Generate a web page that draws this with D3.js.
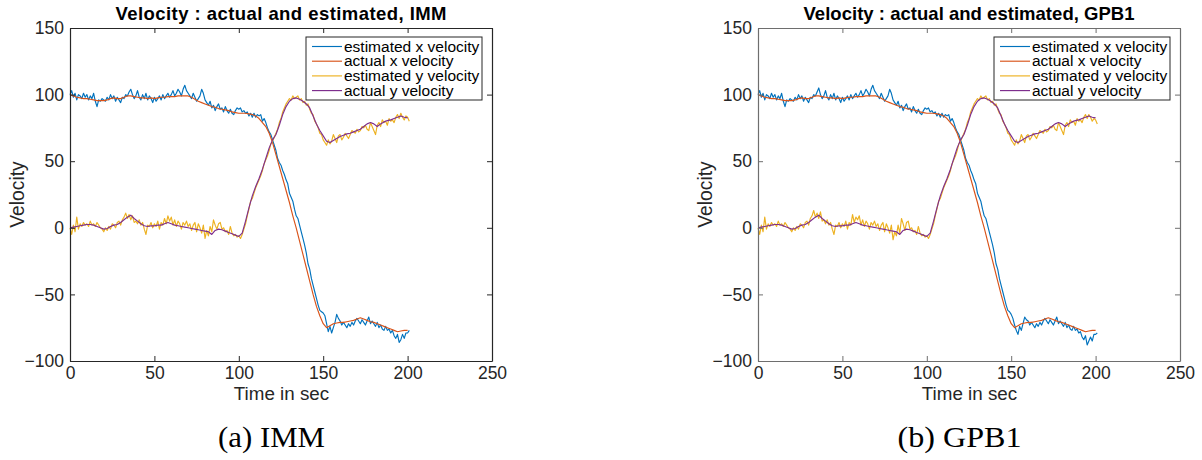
<!DOCTYPE html>
<html>
<head>
<meta charset="utf-8">
<script src="https://cdn.jsdelivr.net/npm/d3@7"></script>
<style>
  body { margin: 0; background: #fff; }
  svg { display: block; }
</style>
</head>
<body>
<svg id="chart" width="1202" height="460"></svg>
<script>
// ---- sampling grids (seconds) ----
const timeEst = d3.range(0, 202);      // estimates every second
const timeAct = d3.range(0, 201, 2);   // true trajectory every 2 s

// ---- true velocities (shared by both filters) ----
const actualX = [
  100, 99, 98, 97.5, 97, 97, 96.5, 96, 95.5, 95.5,
  95.5, 96, 97, 97.5, 97, 97, 98, 99, 99, 98.5,
  98, 97.5, 97.5, 97, 97.5, 97, 97.5, 98, 98, 98.5,
  98.5, 98.5, 99, 99, 99, 99, 98, 96.5, 95, 94,
  93, 92, 91, 90.5, 89.5, 89, 88.5, 88, 87, 86.5,
  86, 86, 86, 85.5, 85, 84, 82, 79, 76, 71,
  64, 55, 46, 37, 28, 19, 9, 0, -10, -20,
  -30, -40, -50, -59, -66, -72, -75, -73.5, -72, -71.5,
  -71, -71, -70.5, -70, -69.5, -68.5, -67.5, -68.5, -69.5, -70.5,
  -71, -72, -73, -74, -75, -76, -77, -78, -77.5, -77,
  -77
];
const actualY = [
  0, 0.5, 1, 1.5, 2, 2.5, 2.5, 2, 1, 0,
  -1, -0.5, 1, 2, 2.5, 4, 6, 8, 9.5, 7,
  5, 3, 1.5, 1, 1.5, 1.5, 2, 2, 3, 4,
  3, 2, 1.5, 1, 0.5, 0, -0.5, -1, -1.5, -2,
  -2.5, -3, -5, -2, -1, -1.5, -2.5, -3.5, -4.5, -5.5,
  -6.5, -4, 5, 15, 24, 31, 37, 44, 52, 60,
  66, 70, 77, 85, 91, 95, 97, 97.5, 96.5, 95,
  93, 90, 84, 78, 73, 69, 65, 64, 65.5, 67,
  68.5, 69.5, 70.5, 71, 72, 73, 74, 76, 78, 79,
  78, 76, 78, 79.5, 80.5, 81, 82, 83, 84, 83,
  82.5
];

// ---- IMM estimates ----
const estXImm = [
  100, 103, 98, 101, 96, 100, 99, 97, 101, 98,
  100, 96, 99, 97, 101, 95, 91, 96, 95, 97,
  96, 95, 98, 96, 100, 97, 99, 95, 98, 96,
  94, 98, 97, 100, 99, 102, 104, 100, 97, 99,
  103, 98, 96, 100, 97, 101, 96, 99, 97, 94,
  98, 95, 97, 99, 96, 100, 97, 99, 101, 98,
  100, 103, 99, 101, 104, 102, 99, 104, 107, 103,
  101, 99, 97, 101, 98, 95, 97, 99, 104, 101,
  96, 94, 92, 95, 90, 92, 88, 91, 93, 89,
  90, 87, 91, 88, 86, 89, 86, 85, 88, 90,
  89, 90, 87, 88, 86, 87, 84, 86, 83, 86,
  83, 85, 84, 85, 80, 82, 79, 75, 72, 70,
  66, 62, 58, 52, 49, 47, 43, 40, 36, 33,
  26, 23, 20, 14, 9, 7, 2, -3, -8, -13,
  -19, -27, -31, -38, -43, -48, -53, -58, -62, -63,
  -64, -66, -72, -78, -74, -79, -75, -71, -65, -68,
  -70, -73, -71, -73, -75, -72, -74, -71, -73, -70,
  -68, -70, -72, -69, -71, -73, -70, -67, -72, -70,
  -72, -74, -71, -75, -73, -76, -77, -74, -77, -76,
  -79, -77, -81, -83, -80, -86, -84, -80, -83, -79,
  -79, -77
];
const estYImm = [
  0, -5, 2, -3, 8, -1, 3, 1, 4, 2,
  3, 1, 5, 2, 3, 1, 4, 2, 0, -1,
  -3, 0, -2, 1, -1, 3, 2, 0, 4, 5,
  2, 6, 8, 11, 7, 10, 6, 9, 4, 5,
  3, 6, 2, 4, -1, -5, 2, 1, 4, 0,
  3, 1, 5, -1, 4, 2, 7, 3, 9, 5,
  8, 2, 6, 1, 5, 3, -1, 4, 2, 5,
  1, 3, -2, 2, 4, -3, 3, 0, -4, 2,
  -8, -2, -6, 1, -3, 6, 2, -1, 3, 4,
  -1, 0, -3, -2, -5, 1, -4, -6, -5, -7,
  -6, -8, -5, -1, 3, 9, 14, 20, 22, 26,
  30, 33, 36, 39, 43, 48, 51, 54, 58, 63,
  65, 68, 71, 74, 79, 82, 87, 90, 93, 95,
  97, 96, 99, 97, 98, 99, 96, 97, 94, 95,
  92, 93, 89, 86, 85, 80, 78, 75, 71, 70,
  66, 64, 62, 66, 63, 65, 70, 67, 64, 69,
  70, 66, 68, 71, 69, 67, 70, 73, 72, 71,
  74, 72, 73, 76, 75, 77, 74, 73, 79, 76,
  73, 70, 77, 79, 76, 81, 79, 80, 77, 82,
  80, 81, 79, 83, 85, 82, 86, 83, 81, 84,
  83, 80
];

// ---- GPB1 estimates ----
const estXGpb = [
  100, 103, 98, 101, 96, 100, 99, 97, 101, 98,
  100, 96, 99, 97, 101, 95, 91, 96, 95, 97,
  96, 95, 98, 96, 100, 97, 99, 95, 98, 96,
  94, 98, 97, 100, 99, 102, 105, 100, 97, 99,
  103, 98, 96, 100, 97, 101, 96, 99, 97, 94,
  98, 95, 97, 99, 96, 100, 97, 99, 101, 98,
  100, 103, 99, 101, 104, 102, 99, 104, 107, 103,
  101, 99, 97, 101, 98, 95, 97, 99, 104, 101,
  96, 94, 92, 95, 90, 92, 88, 91, 93, 89,
  90, 87, 91, 88, 86, 89, 86, 85, 88, 90,
  89, 90, 87, 88, 86, 87, 84, 86, 83, 86,
  83, 85, 84, 85, 80, 82, 79, 75, 72, 70,
  66, 62, 58, 52, 49, 47, 43, 40, 36, 33,
  26, 23, 20, 14, 9, 7, 2, -3, -8, -13,
  -19, -27, -31, -38, -43, -48, -53, -58, -62, -63,
  -65, -68, -73, -77, -80, -74, -77, -72, -67, -69,
  -70, -73, -71, -73, -75, -72, -74, -71, -73, -70,
  -68, -70, -72, -69, -71, -73, -70, -67, -72, -70,
  -72, -74, -71, -75, -73, -76, -77, -74, -77, -76,
  -79, -78, -82, -84, -81, -88, -85, -82, -85, -80,
  -80, -79
];
const estYGpb = [
  0, -5, 2, -3, 8, -1, 3, 1, 4, 2,
  3, 1, 5, 2, 3, 1, 4, 2, 0, -1,
  -3, 0, -2, 1, -1, 3, 2, 0, 4, 5,
  2, 7, 9, 13, 8, 11, 7, 12, 5, 6,
  3, 6, 2, 4, -1, -5, 2, 1, 4, 0,
  3, 1, 5, -1, 4, 2, 10, 4, 8, 6,
  9, 2, 6, 1, 5, 3, -1, 4, 2, 5,
  1, 3, -2, 2, 4, -3, 3, 0, -4, 2,
  -9, -3, -6, 2, -4, 7, 3, -2, 4, 5,
  -1, 0, -3, -2, -5, 1, -4, -6, -5, -7,
  -6, -8, -5, -1, 3, 9, 14, 20, 22, 26,
  30, 33, 36, 39, 43, 48, 51, 54, 58, 63,
  65, 68, 71, 74, 79, 82, 87, 90, 93, 95,
  97, 96, 99, 97, 98, 99, 96, 97, 94, 95,
  92, 93, 89, 86, 85, 80, 78, 75, 71, 70,
  66, 64, 62, 66, 63, 65, 70, 67, 64, 69,
  70, 66, 68, 71, 69, 67, 70, 73, 72, 71,
  74, 72, 73, 76, 75, 77, 74, 73, 79, 76,
  73, 70, 77, 79, 76, 81, 79, 80, 77, 82,
  80, 81, 79, 83, 85, 82, 85, 83, 80, 82,
  81, 78
];

// ---- axes, legend and labels ----
const xTicks = [0, 50, 100, 150, 200, 250];
const yTicks = [-100, -50, 0, 50, 100, 150];
const seriesNames = ["estimated x velocity", "actual x velocity", "estimated y velocity", "actual y velocity"];
const seriesColors = ["#0072BD", "#D95319", "#EDB120", "#7E2F8E"];
const panelTitles = ["Velocity : actual and estimated, IMM", "Velocity : actual and estimated, GPB1"];
const panelCaptions = ["(a) IMM", "(b) GPB1"];

const svg = d3.select("#chart");
const sans = "'Liberation Sans', Arial, Helvetica, sans-serif";
const serif = "'Liberation Serif', 'Times New Roman', serif";

const panels = [
  { left: 70, est: [estXImm, estYImm], axisColor: "#262626", title: panelTitles[0], caption: panelCaptions[0], capLen: 107 },
  { left: 758, est: [estXGpb, estYGpb], axisColor: "#6e6e6e", title: panelTitles[1], caption: panelCaptions[1], capLen: 124 }
];

const plotW = 422, plotTop = 28, plotBottom = 361;

panels.forEach(p => {
  const x = d3.scaleLinear().domain([0, 250]).range([p.left, p.left + plotW]);
  const y = d3.scaleLinear().domain([-100, 150]).range([plotBottom, plotTop]);
  const g = svg.append("g");

  // series (drawn in legend order so actual y ends on top)
  const series = [
    { t: timeEst, v: p.est[0] },
    { t: timeAct, v: actualX },
    { t: timeEst, v: p.est[1] },
    { t: timeAct, v: actualY }
  ];
  series.forEach((s, i) => {
    const line = d3.line().x((d, k) => x(s.t[k])).y(d => y(d));
    g.append("path")
      .attr("d", line(s.v))
      .attr("fill", "none")
      .attr("stroke", seriesColors[i])
      .attr("stroke-width", 1.15)
      .attr("stroke-linejoin", "round");
  });

  // axes with inward ticks on all four sides
  const styleAxis = sel => {
    sel.selectAll("path.domain").attr("stroke", p.axisColor).attr("stroke-width", 1.2);
    sel.selectAll(".tick line").attr("stroke", p.axisColor).attr("stroke-width", 1);
    sel.selectAll("text").attr("fill", "#262626").attr("font-family", sans).attr("font-size", 17.5);
  };
  g.append("g").attr("transform", `translate(0,${plotBottom})`)
    .call(d3.axisBottom(x).tickValues(xTicks).tickSizeInner(-5).tickSizeOuter(0).tickPadding(5.5))
    .call(styleAxis);
  g.append("g").attr("transform", `translate(0,${plotTop})`)
    .call(d3.axisTop(x).tickValues(xTicks).tickSizeInner(-5).tickSizeOuter(0).tickFormat(""))
    .call(styleAxis);
  g.append("g").attr("transform", `translate(${p.left},0)`)
    .call(d3.axisLeft(y).tickValues(yTicks).tickSizeInner(-5).tickSizeOuter(0).tickPadding(6))
    .call(styleAxis);
  g.append("g").attr("transform", `translate(${p.left + plotW},0)`)
    .call(d3.axisRight(y).tickValues(yTicks).tickSizeInner(-5).tickSizeOuter(0).tickFormat(""))
    .call(styleAxis);

  // title
  g.append("text")
    .attr("x", p.left + plotW / 2).attr("y", 19.5)
    .attr("text-anchor", "middle")
    .attr("font-family", sans).attr("font-weight", "bold").attr("font-size", 18.5)
    .attr("textLength", 331).attr("lengthAdjust", "spacing")
    .attr("fill", "#000")
    .text(p.title);

  // axis labels
  g.append("text")
    .attr("x", p.left + plotW / 2 + 0.5).attr("y", 400)
    .attr("text-anchor", "middle")
    .attr("font-family", sans).attr("font-size", 18.8)
    .attr("fill", "#262626")
    .text("Time in sec");
  g.append("text")
    .attr("transform", `translate(${p.left - 46},194.5) rotate(-90)`)
    .attr("text-anchor", "middle")
    .attr("font-family", sans).attr("font-size", 19.3)
    .attr("fill", "#262626")
    .text("Velocity");

  // legend
  const lx = p.left + plotW - 186, ly = 37;
  const lg = g.append("g");
  lg.append("rect")
    .attr("x", lx).attr("y", ly).attr("width", 176).attr("height", 63)
    .attr("fill", "#fff").attr("stroke", "#262626").attr("stroke-width", 1);
  seriesNames.forEach((name, i) => {
    const cy = ly + 9.5 + i * 14.7;
    lg.append("line")
      .attr("x1", lx + 6).attr("x2", lx + 36)
      .attr("y1", cy).attr("y2", cy)
      .attr("stroke", seriesColors[i]).attr("stroke-width", 1.15);
    lg.append("text")
      .attr("x", lx + 38).attr("y", cy + 5)
      .attr("font-family", sans).attr("font-size", 15.5)
      .attr("fill", "#000")
      .text(name);
  });

  // sub-figure caption
  g.append("text")
    .attr("x", p.left + 201.5).attr("y", 447)
    .attr("text-anchor", "middle")
    .attr("font-family", serif).attr("font-size", 30)
    .attr("textLength", p.capLen).attr("lengthAdjust", "spacingAndGlyphs")
    .attr("fill", "#000")
    .text(p.caption);
});
</script>
</body>
</html>
